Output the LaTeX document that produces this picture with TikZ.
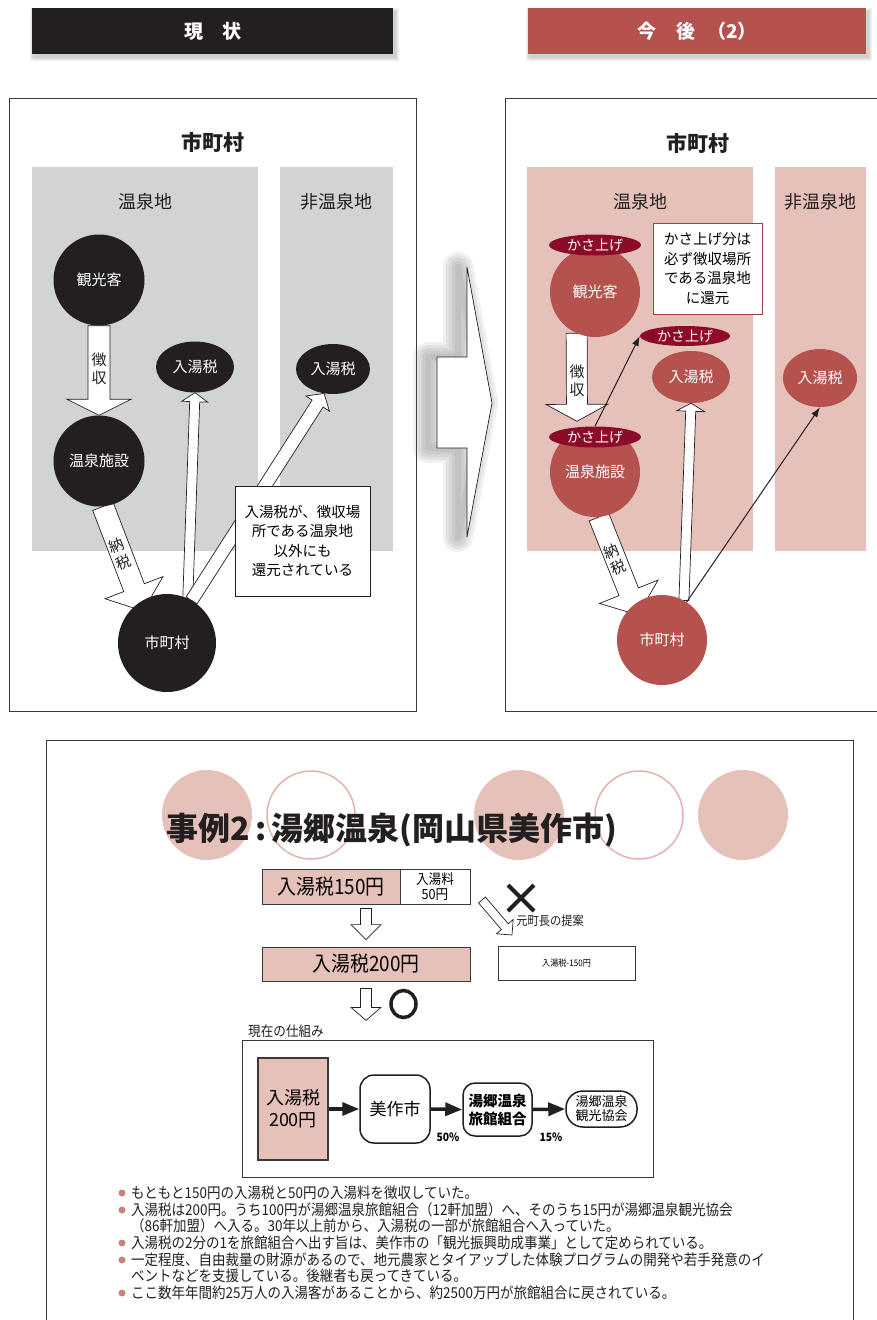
\documentclass[tikz,border=0pt]{standalone}
\usepackage{fontspec}
\setmainfont{Noto Sans CJK JP}
\newfontfamily\condf[FakeStretch=0.9]{Noto Sans CJK JP}
\usetikzlibrary{shapes.geometric,calc,arrows.meta}
\pgfdeclarelayer{back}\pgfdeclarelayer{mid}\pgfsetlayers{back,mid,main}
\definecolor{cblack}{HTML}{231F20}
\definecolor{cgray}{HTML}{D1D3D4}
\definecolor{cred}{HTML}{B5524E}
\definecolor{cpink}{HTML}{E6C1B9}
\definecolor{cdark}{HTML}{8C0B28}
\definecolor{cbox}{HTML}{A33A44}
\definecolor{cdot}{HTML}{C9837D}
\definecolor{cring}{HTML}{E3B3AB}
\definecolor{cframe}{HTML}{3A3A3A}
\definecolor{cshadow}{HTML}{6D6E71}
\newcommand{\fz}[2]{\fontsize{#1}{#2}\selectfont}
\newcommand{\blkarrow}[6][]{%
  \path[blockarrow,#1] let \p1=(#2), \p2=(#3), \n2={atan2(\y2-\y1,\x2-\x1)} in
  ($(\p1)+(\n2+90:#4pt)$) -- ($(\p2)+(\n2+180:#6pt)+(\n2+90:#4pt)$) --
  ($(\p2)+(\n2+180:#6pt)+(\n2+90:#5pt)$) -- (\p2) --
  ($(\p2)+(\n2+180:#6pt)+(\n2-90:#5pt)$) -- ($(\p2)+(\n2+180:#6pt)+(\n2-90:#4pt)$) --
  ($(\p1)+(\n2-90:#4pt)$) -- cycle;}
\tikzset{
  frame/.style={draw=cframe, line width=1pt},
  hdr/.style={text=white, inner sep=0pt, minimum height=46pt, font=\bfseries\fz{19}{22}},
  hshadow/.style={fill=cshadow, opacity=0.09},
  ttl/.style={font=\bfseries\fz{21}{24}, text=cblack},
  lbl/.style={font=\fz{18}{20}, text=cblack},
  bcirc/.style={circle, fill=cblack, text=white, inner sep=0pt, font=\fz{15}{18}},
  rcirc/.style={circle, fill=cred, text=white, inner sep=0pt, font=\fz{15}{18}},
  bell/.style={ellipse, fill=cblack, text=white, inner sep=0pt, font=\fz{15}{18}},
  rell/.style={ellipse, fill=cred, text=white, inner sep=0pt, font=\fz{15}{18}},
  kasa/.style={ellipse, fill=cdark, text=white, minimum width=92pt, minimum height=21pt, inner sep=0pt, font=\fz{14}{16}},
  blockarrow/.style={draw=cblack, fill=white, line width=0.7pt, line join=miter},
  thinarrow/.style={draw=cblack, line width=1pt, -{Latex[length=10pt,width=7pt]}},
  arrtext/.style={align=center, font=\fz{15}{18}, text=cblack, inner sep=0pt},
  tbox/.style={draw=cblack, fill=white, line width=0.8pt, align=center, inner sep=0pt, font=\fz{14.5}{19.5}},
  pbox/.style={draw=cframe, fill=cpink, line width=0.8pt, inner sep=0pt},
  wbox/.style={draw=cframe, fill=white, line width=0.8pt, inner sep=0pt},
  rbox/.style={draw=cblack, fill=white, line width=1.5pt, inner sep=0pt, align=center},
  fatarrow/.style={draw=cblack, line width=3.5pt, -{Triangle[length=17pt,width=13pt]}},
  bullet/.style={anchor=west, inner sep=0pt, font=\condf\fz{15}{17}, text=cblack},
  dot/.style={circle, fill=cdot, inner sep=0pt, minimum size=7pt},
  bshadow/.style={draw=cshadow, line join=round, opacity=0.10}
}
\begin{document}
\begin{tikzpicture}[x=1pt,y=-1pt]
\useasboundingbox (0,0) rectangle (877,1320);
\begin{pgfonlayer}{back}
\fill[white] (0,0) rectangle (877,1320);
\end{pgfonlayer}

% ---------- headers ----------
\foreach \e in {1,2,3,4}{
  \fill[hshadow] (34-\e,12-\e) rectangle (395+\e,57+\e);
  \fill[hshadow] (530-\e,12-\e) rectangle (868+\e,57+\e);
}
\node[hdr, fill=cblack, minimum width=361pt] (h1) at (212.5,31) {現\hspace{1em}状};
\node[hdr, fill=cred, minimum width=338pt] (h2) at (697,31) {今\hspace{1.1em}後\hspace{0.6em}（2）};

% ---------- left panel ----------
\draw[frame] (9,98) rectangle (416,711);
\node[ttl] (tL) at (213,142) {市町村};
\begin{pgfonlayer}{back}
\fill[cgray] (32,167) rectangle (258,551);
\fill[cgray] (280,167) rectangle (393,551);
\end{pgfonlayer}
\node[lbl] (lL1) at (145,202) {温泉地};
\node[lbl] (lL2) at (336,202) {非温泉地};
\node[bcirc, minimum size=91pt] (kL) at (99,280) {観光客};
\node[bcirc, minimum size=91pt] (oL) at (99,461) {温泉施設};
\node[bell, minimum width=78pt, minimum height=51pt] (nL1) at (195,367) {入湯税};
\node[bell, minimum width=74pt, minimum height=50pt] (nL2) at (333,369) {入湯税};
\node[bcirc, minimum size=98pt] (sL) at (167,643) {市町村};
\begin{pgfonlayer}{mid}
\blkarrow{kL.south}{oL.north}{11}{32}{16}
\blkarrow{oL.-85}{[shift={(-24,-32)}]sL.center}{11}{31}{25}
\blkarrow{sL.65}{nL1.south}{5}{13}{9}
\blkarrow{sL.60}{nL2.-110}{6.5}{14}{12}
\end{pgfonlayer}
\node[arrtext] (tzL) at (99,369) {徴\\収};
\node[arrtext, rotate=21] (tnL) at (120,554) {納\\税};
\node[tbox, minimum width=135pt, minimum height=110pt] (boxL) at (302.5,541)
  {入湯税が、徴収場\\所である温泉地\\以外にも\\還元されている};

% ---------- big arrow ----------
\coordinate (ba1) at (467,267);
\coordinate (ba2) at (467,357);
\coordinate (ba3) at (437,357);
\coordinate (ba4) at (437,448);
\coordinate (ba5) at (467,448);
\coordinate (ba6) at (467,537);
\coordinate (ba7) at (492,403);
\foreach \w in {30,24,18,12,6}{
  \draw[bshadow, line width=\w pt] ([xshift=-9pt]ba1) -- ([xshift=-9pt]ba2) -- ([xshift=-9pt]ba3)
    -- ([xshift=-9pt]ba4) -- ([xshift=-9pt]ba5) -- ([xshift=-9pt]ba6) -- ([xshift=-9pt]ba7) -- cycle;
}
\draw[draw=cblack, fill=white, line width=0.7pt]
  (ba1) -- (ba2) -- (ba3) -- (ba4) -- (ba5) -- (ba6) -- (ba7) -- cycle;

% ---------- right panel ----------
\draw[frame] (505,711) -- (505,98) -- (880,98);
\draw[frame] (505,711) -- (880,711);
\node[ttl] (tR) at (698,143) {市町村};
\begin{pgfonlayer}{back}
\fill[cpink] (527,167) rectangle (753,551);
\fill[cpink] (775,167) rectangle (866,551);
\end{pgfonlayer}
\node[lbl] (lR1) at (640,202) {温泉地};
\node[lbl] (lR2) at (820,202) {非温泉地};
\node[rcirc, minimum size=90pt] (kR) at (595,292) {観光客};
\node[kasa] (ka1) at (595,245) {かさ上げ};
\node[rcirc, minimum size=90pt] (oR) at (595,472) {温泉施設};
\node[kasa] (ka3) at (595,437) {かさ上げ};
\node[rell, minimum width=78pt, minimum height=52pt] (nR1) at (691,377) {入湯税};
\node[kasa, minimum width=90pt, minimum height=20pt] (ka2) at (685,336) {かさ上げ};
\node[rell, minimum width=74pt, minimum height=58pt] (nR2) at (820,378) {入湯税};
\node[rcirc, minimum size=90pt] (sR) at (662,640) {市町村};
\node[tbox, draw=cbox, minimum width=109pt, minimum height=91pt] (boxR) at (707.5,268.5)
  {かさ上げ分は\\必ず徴収場所\\である温泉地\\に還元};
\begin{pgfonlayer}{mid}
\blkarrow{kR.-114}{[shift={(-18,-5)}]ka3.north}{10.5}{31}{17}
\blkarrow{oR.-85}{[shift={(-24,-25)}]sR.center}{10.5}{31.5}{25}
\blkarrow{sR.61}{nR1.south}{5}{14}{8}
\end{pgfonlayer}
\draw[thinarrow] (ka3.north) -- (ka2.west);
\draw[thinarrow] (sR.57) -- (nR2.south);
\node[arrtext] (tzR) at (577,381) {徴\\収};
\node[arrtext, rotate=22] (tnR) at (614.5,559.5) {納\\税};

% ---------- bottom section ----------
\draw[frame] (46,1330) -- (46,740) -- (853,740) -- (853,1330);
\fill[cpink] (207,815) circle (45);
\draw[cring, line width=1.5pt] (311,815) circle (44);
\fill[cpink] (519,815) circle (45);
\draw[cring, line width=1.5pt] (639,815) circle (44);
\fill[cpink] (743,815) circle (45);
\node[anchor=west, inner sep=0pt, font=\bfseries\fz{32}{36}, text=cblack] (title) at (166,830)
  {事例2\,:\,湯郷温泉(岡山県美作市)};

\node[pbox, minimum width=138pt, minimum height=35pt, font=\condf\fz{21}{24}] (b150) at (331,886.5) {入湯税150円};
\node[wbox, minimum width=70pt, minimum height=35pt, align=center, font=\condf\fz{14}{15}] (b50) at (435,886.5) {入湯料\\50円};
\node[pbox, minimum width=208pt, minimum height=34pt, font=\condf\fz{21}{24}] (b200) at (366,964) {入湯税200円};
\node[wbox, minimum width=137pt, minimum height=34pt, font=\condf\fz{9}{10}] (bm150) at (566.5,963) {入湯税-150円};
\blkarrow{[shift={(35,4)}]b150.south}{[shift={(0,-7)}]b200.north}{5.5}{15}{15}
\blkarrow{[shift={(0,7)}]b200.south}{[shift={(0,39)}]b200.south}{5.5}{15}{13}
\coordinate (dg1) at (482,900);
\coordinate (dg2) at (512,935);
\blkarrow{dg1}{dg2}{4.5}{11}{11}
\node[inner sep=0pt, font=\condf\fz{12.5}{14}, text=cblack] (prop) at (550,921) {元町長の提案};
\draw[cblack, line width=4pt] (508,885) -- (534,911) (534,885) -- (508,911);
\draw[cblack, line width=3.5pt] (403.5,1004) ellipse (12.5 and 13.5);
\node[anchor=west, inner sep=0pt, font=\condf\fz{14}{16}, text=cblack] (genzai) at (248,1031) {現在の仕組み};

\draw[frame] (242,1040) rectangle (653,1177);
\node[pbox, draw=cframe, line width=1.5pt, minimum width=70pt, minimum height=102pt, align=center, font=\fz{18}{22}] (p200) at (293,1109) {入湯税\\200円};
\node[rbox, rounded corners=14pt, minimum width=70pt, minimum height=68pt, font=\fz{17}{20}] (mim) at (395,1109) {美作市};
\node[rbox, rounded corners=12pt, minimum width=69pt, minimum height=53pt, font=\bfseries\fz{14.5}{18}] (ryo) at (497.5,1109.5) {湯郷温泉\\旅館組合};
\node[rbox, rounded corners=17pt, minimum width=71pt, minimum height=36pt, font=\fz{13}{14}] (kyo) at (601.5,1109) {湯郷温泉\\観光協会};
\draw[fatarrow] (p200.east) -- (mim.west);
\draw[fatarrow] (mim.east) -- (ryo.west);
\draw[fatarrow] (ryo.east) -- (kyo.west);
\node[inner sep=0pt, font=\bfseries\condf\fz{11.5}{12}] (p50) at (448,1137) {50\%};
\node[inner sep=0pt, font=\bfseries\condf\fz{11.5}{12}] (p15) at (551,1137) {15\%};

\node[dot] (d1) at (122,1193) {};
\node[bullet] (t1) at (131,1193) {もともと150円の入湯税と50円の入湯料を徴収していた。};
\node[dot] (d2) at (122,1210) {};
\node[bullet] (t2) at (131,1210) {入湯税は200円。うち100円が湯郷温泉旅館組合（12軒加盟）へ、そのうち15円が湯郷温泉観光協会};
\node[bullet] (t2b) at (131,1226) {（86軒加盟）へ入る。30年以上前から、入湯税の一部が旅館組合へ入っていた。};
\node[dot] (d3) at (122,1243) {};
\node[bullet] (t3) at (131,1243) {入湯税の2分の1を旅館組合へ出す旨は、美作市の「観光振興助成事業」として定められている。};
\node[dot] (d4) at (122,1260) {};
\node[bullet] (t4) at (131,1260) {一定程度、自由裁量の財源があるので、地元農家とタイアップした体験プログラムの開発や若手発意のイ};
\node[bullet] (t4b) at (131,1276) {ベントなどを支援している。後継者も戻ってきている。};
\node[dot] (d5) at (122,1293) {};
\node[bullet] (t5) at (131,1293) {ここ数年年間約25万人の入湯客があることから、約2500万円が旅館組合に戻されている。};
\end{tikzpicture}
\end{document}
